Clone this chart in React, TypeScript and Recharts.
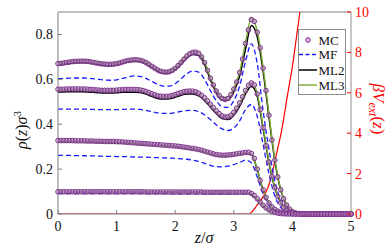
import React from 'react';
import { LineChart, Line, XAxis, YAxis, ReferenceLine, Label } from 'recharts';

// z grid for the model curves
const ZL = [0, 0.1, 0.2, 0.3, 0.4, 0.5, 0.6, 0.7, 0.8, 0.9,
  1.0, 1.1, 1.2, 1.3, 1.4, 1.5, 1.6, 1.7, 1.8, 1.9,
  2.0, 2.1, 2.2, 2.3, 2.4, 2.5, 2.6, 2.7, 2.8, 2.9,
  3.0, 3.1, 3.2, 3.3, 3.4, 3.5, 3.6, 3.7, 3.8, 3.9,
  4.0, 4.2, 4.5, 5.0];

// z grid for the MC samples
const ZM = [0, 0.05, 0.1, 0.15, 0.2, 0.25, 0.3, 0.35, 0.4, 0.45,
  0.5, 0.55, 0.6, 0.65, 0.7, 0.75, 0.8, 0.85, 0.9, 0.95,
  1.0, 1.05, 1.1, 1.15, 1.2, 1.25, 1.3, 1.35, 1.4, 1.45,
  1.5, 1.55, 1.6, 1.65, 1.7, 1.75, 1.8, 1.85, 1.9, 1.95,
  2.0, 2.05, 2.1, 2.15, 2.2, 2.25, 2.3, 2.35, 2.4, 2.45,
  2.5, 2.55, 2.6, 2.65, 2.7, 2.75, 2.8, 2.85, 2.9, 2.95,
  3.0, 3.05, 3.1, 3.15, 3.2, 3.25, 3.3, 3.35, 3.4, 3.45,
  3.5, 3.55, 3.6, 3.65, 3.7, 3.75, 3.8, 3.85, 3.9, 3.95,
  4.0, 4.05, 4.1, 4.15, 4.2, 4.25, 4.3, 4.35, 4.4, 4.45,
  4.5, 4.55, 4.6, 4.65, 4.7, 4.75, 4.8, 4.85, 4.9, 4.95,
  5.0];

// z grid for the external potential
const ZV = [0, 3.25, 3.3, 3.35, 3.4, 3.45, 3.5, 3.55, 3.6, 3.65, 3.7, 3.75, 3.8, 3.85, 3.9, 3.95, 4.0, 4.05, 4.1, 4.15, 4.2];
const VEXT = [0, 0, 0.08, 0.25, 0.45, 0.64, 0.85, 1.1, 1.45, 1.98, 2.6, 3.25, 3.9, 4.7, 5.6, 6.45, 7.3, 8.35, 9.4, 10.5, 11.6];

// ---- MC ----
const MC_A = [0.670, 0.671, 0.673, 0.675, 0.677, 0.679, 0.680, 0.681, 0.681, 0.681,
  0.680, 0.678, 0.676, 0.673, 0.671, 0.669, 0.668, 0.667, 0.667, 0.668,
  0.670, 0.673, 0.677, 0.681, 0.684, 0.686, 0.687, 0.687, 0.685, 0.681,
  0.675, 0.667, 0.658, 0.650, 0.642, 0.636, 0.633, 0.632, 0.634, 0.640,
  0.649, 0.661, 0.675, 0.690, 0.704, 0.714, 0.720, 0.721, 0.716, 0.700,
  0.675, 0.640, 0.605, 0.575, 0.548, 0.528, 0.515, 0.510, 0.515, 0.532,
  0.556, 0.588, 0.630, 0.690, 0.760, 0.820, 0.866, 0.858, 0.810, 0.740,
  0.650, 0.550, 0.440, 0.330, 0.240, 0.165, 0.108, 0.068, 0.040, 0.022,
  0.011, 0.005, 0.002, 0.001, 0, 0, 0, 0, 0, 0,
  0, 0, 0, 0, 0, 0, 0, 0, 0, 0,
  0];
const MC_B = [0.556, 0.556, 0.556, 0.557, 0.557, 0.557, 0.557, 0.557, 0.557, 0.557,
  0.556, 0.555, 0.554, 0.553, 0.552, 0.551, 0.551, 0.551, 0.551, 0.551,
  0.552, 0.553, 0.554, 0.555, 0.555, 0.555, 0.555, 0.554, 0.553, 0.550,
  0.546, 0.541, 0.536, 0.531, 0.527, 0.525, 0.524, 0.524, 0.525, 0.528,
  0.532, 0.537, 0.541, 0.545, 0.547, 0.548, 0.547, 0.544, 0.538, 0.529,
  0.518, 0.504, 0.489, 0.474, 0.460, 0.447, 0.437, 0.432, 0.433, 0.440,
  0.453, 0.472, 0.495, 0.522, 0.550, 0.573, 0.584, 0.575, 0.535, 0.465,
  0.385, 0.305, 0.232, 0.168, 0.117, 0.078, 0.050, 0.030, 0.017, 0.009,
  0.004, 0.002, 0.001, 0, 0, 0, 0, 0, 0, 0,
  0, 0, 0, 0, 0, 0, 0, 0, 0, 0,
  0];
const MC_C = [0.327, 0.327, 0.327, 0.327, 0.327, 0.327, 0.326, 0.326, 0.326, 0.326,
  0.325, 0.325, 0.325, 0.324, 0.324, 0.324, 0.323, 0.323, 0.323, 0.323,
  0.322, 0.322, 0.321, 0.320, 0.319, 0.318, 0.317, 0.316, 0.315, 0.314,
  0.313, 0.312, 0.311, 0.310, 0.309, 0.308, 0.307, 0.306, 0.305, 0.304,
  0.303, 0.302, 0.300, 0.298, 0.296, 0.294, 0.292, 0.290, 0.287, 0.284,
  0.280, 0.276, 0.272, 0.268, 0.265, 0.263, 0.262, 0.262, 0.263, 0.264,
  0.266, 0.268, 0.270, 0.272, 0.274, 0.275, 0.270, 0.248, 0.200, 0.150,
  0.108, 0.074, 0.049, 0.032, 0.021, 0.013, 0.008, 0.005, 0.003, 0.002,
  0.001, 0, 0, 0, 0, 0, 0, 0, 0, 0,
  0, 0, 0, 0, 0, 0, 0, 0, 0, 0,
  0];
const MC_D = [0.099, 0.099, 0.099, 0.099, 0.099, 0.099, 0.099, 0.099, 0.099, 0.099,
  0.099, 0.099, 0.099, 0.099, 0.099, 0.099, 0.099, 0.099, 0.099, 0.099,
  0.099, 0.099, 0.099, 0.099, 0.099, 0.099, 0.099, 0.099, 0.099, 0.099,
  0.098, 0.098, 0.098, 0.098, 0.098, 0.098, 0.098, 0.098, 0.098, 0.098,
  0.098, 0.098, 0.098, 0.098, 0.098, 0.098, 0.098, 0.098, 0.098, 0.098,
  0.097, 0.097, 0.097, 0.097, 0.097, 0.097, 0.097, 0.097, 0.097, 0.097,
  0.097, 0.097, 0.097, 0.097, 0.097, 0.097, 0.092, 0.082, 0.068, 0.053,
  0.039, 0.027, 0.018, 0.011, 0.007, 0.004, 0.002, 0.001, 0, 0,
  0, 0, 0, 0, 0, 0, 0, 0, 0, 0,
  0, 0, 0, 0, 0, 0, 0, 0, 0, 0,
  0];

// ---- MF ----
const MF_A = [0.603, 0.604, 0.605, 0.606, 0.606, 0.605, 0.603, 0.600, 0.597, 0.596,
  0.598, 0.604, 0.611, 0.615, 0.613, 0.604, 0.591, 0.578, 0.570, 0.570,
  0.581, 0.602, 0.625, 0.637, 0.632, 0.600, 0.550, 0.505, 0.478, 0.475,
  0.505, 0.570, 0.680, 0.758, 0.670, 0.460, 0.290, 0.150, 0.060, 0.020,
  0.005, 0, 0, 0];
const MF_B = [0.467, 0.467, 0.467, 0.467, 0.467, 0.467, 0.466, 0.465, 0.465, 0.465,
  0.465, 0.466, 0.467, 0.467, 0.466, 0.462, 0.456, 0.451, 0.448, 0.448,
  0.452, 0.457, 0.461, 0.462, 0.456, 0.442, 0.421, 0.398, 0.379, 0.372,
  0.383, 0.415, 0.465, 0.488, 0.435, 0.310, 0.180, 0.080, 0.030, 0.010,
  0.003, 0, 0, 0];
const MF_C = [0.261, 0.261, 0.261, 0.260, 0.260, 0.259, 0.259, 0.258, 0.257, 0.257,
  0.256, 0.256, 0.255, 0.254, 0.253, 0.253, 0.252, 0.251, 0.250, 0.249,
  0.248, 0.246, 0.244, 0.240, 0.234, 0.226, 0.217, 0.211, 0.210, 0.213,
  0.220, 0.230, 0.240, 0.228, 0.165, 0.090, 0.040, 0.016, 0.006, 0.002,
  0.001, 0, 0, 0];
const MF_D = [0.091, 0.091, 0.091, 0.091, 0.091, 0.091, 0.091, 0.091, 0.091, 0.091,
  0.091, 0.091, 0.091, 0.091, 0.091, 0.091, 0.091, 0.091, 0.091, 0.091,
  0.090, 0.090, 0.090, 0.090, 0.090, 0.090, 0.090, 0.090, 0.090, 0.090,
  0.090, 0.090, 0.090, 0.086, 0.062, 0.035, 0.016, 0.006, 0.002, 0.001,
  0, 0, 0, 0];

// ---- ML2 ----
const ML2_A = [0.664, 0.667, 0.671, 0.674, 0.675, 0.674, 0.670, 0.665, 0.662, 0.661,
  0.664, 0.671, 0.678, 0.681, 0.679, 0.669, 0.652, 0.636, 0.627, 0.628,
  0.643, 0.668, 0.696, 0.711, 0.706, 0.666, 0.598, 0.541, 0.508, 0.507,
  0.545, 0.615, 0.735, 0.840, 0.790, 0.637, 0.432, 0.238, 0.107, 0.040,
  0.011, 0.001, 0, 0];
const ML2_B = [0.544, 0.544, 0.545, 0.545, 0.545, 0.544, 0.542, 0.540, 0.539, 0.539,
  0.540, 0.542, 0.543, 0.543, 0.541, 0.534, 0.524, 0.515, 0.512, 0.513,
  0.520, 0.529, 0.535, 0.535, 0.526, 0.506, 0.477, 0.448, 0.425, 0.421,
  0.440, 0.481, 0.535, 0.568, 0.525, 0.380, 0.230, 0.116, 0.050, 0.017,
  0.005, 0.001, 0, 0];
const ML2_C = [0.323, 0.323, 0.323, 0.322, 0.322, 0.321, 0.321, 0.320, 0.319, 0.319,
  0.318, 0.317, 0.315, 0.313, 0.311, 0.309, 0.307, 0.305, 0.303, 0.301,
  0.299, 0.296, 0.292, 0.288, 0.283, 0.276, 0.268, 0.261, 0.258, 0.259,
  0.262, 0.266, 0.270, 0.266, 0.197, 0.106, 0.048, 0.020, 0.008, 0.003,
  0.001, 0, 0, 0];
const ML2_D = [0.096, 0.096, 0.096, 0.096, 0.096, 0.096, 0.096, 0.096, 0.096, 0.096,
  0.096, 0.096, 0.096, 0.096, 0.096, 0.096, 0.096, 0.096, 0.096, 0.096,
  0.096, 0.096, 0.096, 0.096, 0.096, 0.096, 0.096, 0.096, 0.096, 0.096,
  0.096, 0.096, 0.096, 0.090, 0.065, 0.037, 0.017, 0.007, 0.002, 0.001,
  0, 0, 0, 0];

// ---- ML3 ----
const ML3_A = [0.674, 0.677, 0.681, 0.684, 0.685, 0.684, 0.680, 0.675, 0.672, 0.671,
  0.674, 0.681, 0.688, 0.691, 0.689, 0.679, 0.662, 0.646, 0.637, 0.638,
  0.653, 0.679, 0.708, 0.724, 0.720, 0.679, 0.609, 0.552, 0.519, 0.519,
  0.560, 0.634, 0.765, 0.872, 0.815, 0.655, 0.445, 0.245, 0.110, 0.041,
  0.011, 0.001, 0, 0];
const ML3_B = [0.553, 0.553, 0.554, 0.554, 0.554, 0.553, 0.551, 0.549, 0.548, 0.548,
  0.549, 0.551, 0.552, 0.552, 0.550, 0.543, 0.533, 0.524, 0.521, 0.522,
  0.529, 0.538, 0.544, 0.544, 0.535, 0.515, 0.486, 0.457, 0.434, 0.430,
  0.450, 0.493, 0.549, 0.585, 0.537, 0.389, 0.236, 0.120, 0.052, 0.018,
  0.005, 0.001, 0, 0];
const ML3_C = [0.325, 0.325, 0.325, 0.324, 0.324, 0.323, 0.323, 0.322, 0.321, 0.321,
  0.320, 0.319, 0.317, 0.315, 0.313, 0.311, 0.309, 0.307, 0.305, 0.303,
  0.301, 0.298, 0.294, 0.290, 0.285, 0.278, 0.270, 0.263, 0.260, 0.261,
  0.264, 0.268, 0.272, 0.268, 0.199, 0.107, 0.049, 0.021, 0.008, 0.003,
  0.001, 0, 0, 0];
const ML3_D = [0.097, 0.097, 0.097, 0.097, 0.097, 0.097, 0.097, 0.097, 0.097, 0.097,
  0.097, 0.097, 0.097, 0.097, 0.097, 0.097, 0.097, 0.097, 0.097, 0.097,
  0.097, 0.097, 0.097, 0.096, 0.096, 0.096, 0.096, 0.096, 0.096, 0.096,
  0.096, 0.096, 0.096, 0.091, 0.066, 0.038, 0.018, 0.007, 0.002, 0.001,
  0, 0, 0, 0];

const X_TICKS = [0, 1, 2, 3, 4, 5];
const YL_TICKS = [0, 0.2, 0.4, 0.6, 0.8];
const YR_TICKS = [0, 2, 4, 6, 8, 10];
const LEGEND = ['MC', 'MF', 'ML2', 'ML3'];

const FONT = "'Liberation Serif'";
const TXT: React.CSSProperties = { fontFamily: FONT };
const AXIS = '#808080';
const RED = '#ff0000';
const PURPLE = '#7e2f8e';
const BLUE = '#1a1aff';
const GREEN = '#77ac30';
const BLACK = '#000000';

const pts = (zs: number[], vs: number[]) => zs.map((z, i) => ({ z, v: vs[i] }));

const fmtL = (v: number) => (v === 0 ? '0' : v.toFixed(1));

function LeftTick(props: any) {
  const { x, y, payload } = props;
  return (
    <g>
      <line x1={x} x2={x + 4} y1={y} y2={y} stroke={AXIS} strokeWidth={1} />
      <text x={x - 5} y={y + 5} textAnchor="end" fontSize={14} style={TXT} fill="#111">
        {fmtL(payload.value)}
      </text>
    </g>
  );
}

function RightTick(props: any) {
  const { x, y, payload } = props;
  return (
    <g>
      <line x1={x - 4} x2={x} y1={y} y2={y} stroke={RED} strokeWidth={1} />
      <text x={x + 4} y={y + 5} textAnchor="start" fontSize={14} style={TXT} fill={RED}>
        {String(payload.value)}
      </text>
    </g>
  );
}

function BottomTick(props: any) {
  const { x, y, payload } = props;
  return (
    <g>
      <line x1={x} x2={x} y1={y} y2={y - 4} stroke={AXIS} strokeWidth={1} />
      <text x={x} y={y + 17} textAnchor="middle" fontSize={14} style={TXT} fill="#111">
        {String(payload.value)}
      </text>
    </g>
  );
}

const LeftLabel = () => (
  <text x={27} y={130} transform="rotate(-90 27 130)" textAnchor="middle" fontSize={16} style={TXT} fill="#111">
    <tspan fontStyle="italic">ρ</tspan>
    <tspan>(</tspan>
    <tspan fontStyle="italic">z</tspan>
    <tspan>)</tspan>
    <tspan fontStyle="italic">σ</tspan>
    <tspan fontSize={11} dy={-6}>3</tspan>
  </text>
);

const RightLabel = () => (
  <text x={373} y={109} transform="rotate(90 373 109)" textAnchor="middle" fontSize={17} style={TXT} fill={RED}>
    <tspan fontStyle="italic">βV</tspan>
    <tspan fontStyle="italic" fontSize={12} dy={4}>ext</tspan>
    <tspan dy={-4}>(</tspan>
    <tspan fontStyle="italic">z</tspan>
    <tspan>)</tspan>
  </text>
);

const BottomLabel = () => (
  <text x={204} y={243} textAnchor="middle" fontSize={16} style={TXT} fill="#111">
    <tspan fontStyle="italic">z</tspan>
    <tspan>/</tspan>
    <tspan fontStyle="italic">σ</tspan>
  </text>
);

const mcDot = { r: 2.3, stroke: PURPLE, strokeWidth: 1, fill: '#b48cc0', fillOpacity: 0.55 };

function LegendBox() {
  const rows = [11, 25.5, 41, 56];
  return (
    <div
      style={{
        position: 'absolute', left: 298, top: 29, width: 48, height: 66,
        background: '#fff', border: '1px solid #8c8c8c', boxSizing: 'border-box',
      }}
    >
      <svg width={46} height={64} style={{ display: 'block' }}>
        {LEGEND.map((name, i) => {
          const y = rows[i] - 1;
          let sym: React.ReactNode = null;
          if (name === 'MC') sym = <circle cx={9} cy={y} r={2.3} stroke={PURPLE} strokeWidth={1} fill="#b48cc0" fillOpacity={0.55} />;
          if (name === 'MF') sym = <line x1={0} x2={18} y1={y} y2={y} stroke={BLUE} strokeWidth={1.3} strokeDasharray="4 2.5" />;
          if (name === 'ML2') sym = <line x1={0} x2={18} y1={y} y2={y} stroke={BLACK} strokeWidth={1.5} />;
          if (name === 'ML3') sym = <line x1={0} x2={18} y1={y} y2={y} stroke={GREEN} strokeWidth={1.4} />;
          return (
            <g key={name}>
              {sym}
              <text x={19.5} y={y + 4.5} fontSize={13} style={TXT} fill="#111">{name}</text>
            </g>
          );
        })}
      </svg>
    </div>
  );
}

const MC_SETS = [MC_A, MC_B, MC_C, MC_D];
const MF_SETS = [MF_A, MF_B, MF_C, MF_D];
const ML2_SETS = [ML2_A, ML2_B, ML2_C, ML2_D];
const ML3_SETS = [ML3_A, ML3_B, ML3_C, ML3_D];

export default function App() {
  return (
    <div style={{ position: 'absolute', left: 0, top: 0, width: 390, height: 252, background: '#fff' }}>
      <LineChart width={390} height={252} margin={{ top: 12, right: 0, bottom: 0, left: 0 }}>
        <XAxis
          type="number"
          dataKey="z"
          domain={[0, 5]}
          ticks={X_TICKS}
          interval={0}
          height={38}
          tickSize={0}
          tickMargin={0}
          stroke={AXIS}
          tick={<BottomTick />}
        >
          <Label content={<BottomLabel />} />
        </XAxis>
        <YAxis
          yAxisId="left"
          type="number"
          domain={[0, 0.9]}
          ticks={YL_TICKS}
          interval={0}
          width={58}
          tickSize={0}
          tickMargin={0}
          stroke={AXIS}
          tick={<LeftTick />}
        >
          <Label content={<LeftLabel />} />
        </YAxis>
        <YAxis
          yAxisId="right"
          orientation="right"
          type="number"
          domain={[0, 10]}
          allowDataOverflow
          ticks={YR_TICKS}
          interval={0}
          width={39}
          tickSize={0}
          tickMargin={0}
          stroke="#9a8a8e"
          tick={<RightTick />}
        >
          <Label content={<RightLabel />} />
        </YAxis>
        <ReferenceLine yAxisId="left" y={0.9} stroke={AXIS} strokeWidth={1} />

        <Line
          yAxisId="right"
          data={pts(ZV, VEXT)}
          dataKey="v"
          type="monotone"
          stroke={RED}
          strokeWidth={1.2}
          dot={false}
          activeDot={false}
          isAnimationActive={false}
        />
        {MC_SETS.map((s, i) => (
          <Line
            key={'mc' + i}
            yAxisId="left"
            data={pts(ZM, s)}
            dataKey="v"
            stroke="none"
            dot={mcDot}
            activeDot={false}
            isAnimationActive={false}
          />
        ))}
        {MF_SETS.map((s, i) => (
          <Line
            key={'mf' + i}
            yAxisId="left"
            data={pts(ZL, s)}
            dataKey="v"
            type="monotone"
            stroke={BLUE}
            strokeWidth={1.3}
            strokeDasharray="5 3"
            dot={false}
            activeDot={false}
            isAnimationActive={false}
          />
        ))}
        {ML2_SETS.map((s, i) => (
          <Line
            key={'ml2' + i}
            yAxisId="left"
            data={pts(ZL, s)}
            dataKey="v"
            type="monotone"
            stroke={BLACK}
            strokeWidth={1.5}
            dot={false}
            activeDot={false}
            isAnimationActive={false}
          />
        ))}
        {ML3_SETS.map((s, i) => (
          <Line
            key={'ml3' + i}
            yAxisId="left"
            data={pts(ZL, s)}
            dataKey="v"
            type="monotone"
            stroke={GREEN}
            strokeWidth={1.4}
            dot={false}
            activeDot={false}
            isAnimationActive={false}
          />
        ))}
      </LineChart>
      <LegendBox />
    </div>
  );
}
